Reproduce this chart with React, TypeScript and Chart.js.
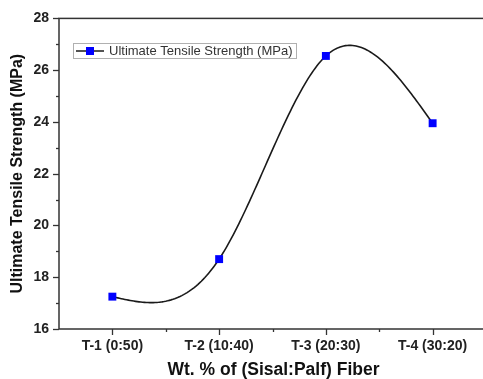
import React, { useEffect, useRef } from "react";
import { Chart, registerables } from "chart.js";

Chart.register(...registerables);

const categories = ["T-1 (0:50)", "T-2 (10:40)", "T-3 (20:30)", "T-4 (30:20)"];
const strengthValues = [17.25, 18.7, 26.55, 23.95];
const seriesLabel = "Ultimate Tensile Strength (MPa)";
const xTitle = "Wt. % of (Sisal:Palf) Fiber";
const yTitle = "Ultimate Tensile Strength (MPa)";
const yMin = 16;
const yMax = 28;
const yStep = 2;

const FONT = "'Liberation Sans', Arial, sans-serif";

// natural cubic spline second derivatives
function naturalSpline(xs: number[], ys: number[]) {
  const n = xs.length;
  const M = new Array(n).fill(0);
  if (n < 3) return M;
  const a: number[] = [], b: number[] = [], c: number[] = [], d: number[] = [];
  for (let i = 1; i < n - 1; i++) {
    const h0 = xs[i] - xs[i - 1];
    const h1 = xs[i + 1] - xs[i];
    a.push(h0);
    b.push(2 * (h0 + h1));
    c.push(h1);
    d.push(6 * ((ys[i + 1] - ys[i]) / h1 - (ys[i] - ys[i - 1]) / h0));
  }
  const m = b.length;
  for (let i = 1; i < m; i++) {
    const w = a[i] / b[i - 1];
    b[i] -= w * c[i - 1];
    d[i] -= w * d[i - 1];
  }
  const sol = new Array(m).fill(0);
  sol[m - 1] = d[m - 1] / b[m - 1];
  for (let i = m - 2; i >= 0; i--) sol[i] = (d[i] - c[i] * sol[i + 1]) / b[i];
  for (let i = 0; i < m; i++) M[i + 1] = sol[i];
  return M;
}

const decorPlugin = {
  id: "decor",
  beforeDatasetsDraw(chart: any) {
    const ctx = chart.ctx;
    const meta = chart.getDatasetMeta(0);
    const xs = meta.data.map((p: any) => p.x);
    const ys = meta.data.map((p: any) => p.y);
    const M = naturalSpline(xs, ys);
    ctx.save();
    ctx.beginPath();
    ctx.strokeStyle = "#1a1a1a";
    ctx.lineWidth = 1.6;
    ctx.lineJoin = "round";
    for (let i = 0; i < xs.length - 1; i++) {
      const h = xs[i + 1] - xs[i];
      const steps = 60;
      for (let s = 0; s <= steps; s++) {
        const x = xs[i] + (h * s) / steps;
        const A = (xs[i + 1] - x) / h;
        const B = (x - xs[i]) / h;
        const y =
          A * ys[i] +
          B * ys[i + 1] +
          ((A * A * A - A) * M[i] + (B * B * B - B) * M[i + 1]) * (h * h) / 6;
        if (i === 0 && s === 0) ctx.moveTo(x, y);
        else ctx.lineTo(x, y);
      }
    }
    ctx.stroke();
    ctx.restore();
  },
  afterDraw(chart: any) {
    const ctx = chart.ctx;
    const area = chart.chartArea;
    const xs = chart.scales.x;
    const ysc = chart.scales.y;
    ctx.save();
    // frame
    ctx.strokeStyle = "#333";
    ctx.lineWidth = 1.5;
    ctx.strokeRect(area.left, area.top, area.right - area.left, area.bottom - area.top);
    // y ticks
    ctx.lineWidth = 1.3;
    for (let v = yMin; v <= yMax; v += yStep / 2) {
      const y = Math.round(ysc.getPixelForValue(v)) + 0.5;
      const major = (v - yMin) % yStep === 0;
      ctx.beginPath();
      ctx.moveTo(area.left - (major ? 6 : 3), y);
      ctx.lineTo(area.left, y);
      ctx.stroke();
    }
    // x ticks
    const n = categories.length;
    for (let i = 0; i < n; i++) {
      const x = Math.round(xs.getPixelForValue(i)) + 0.5;
      ctx.beginPath();
      ctx.moveTo(x, area.bottom);
      ctx.lineTo(x, area.bottom + 6);
      ctx.stroke();
      if (i < n - 1) {
        const xm = Math.round((xs.getPixelForValue(i) + xs.getPixelForValue(i + 1)) / 2) + 0.5;
        ctx.beginPath();
        ctx.moveTo(xm, area.bottom);
        ctx.lineTo(xm, area.bottom + 3);
        ctx.stroke();
      }
    }
    // axis titles
    ctx.fillStyle = "#111";
    ctx.font = `bold 17.5px ${FONT}`;
    ctx.textAlign = "center";
    ctx.textBaseline = "middle";
    ctx.fillText(xTitle, 273.5, 370);
    ctx.font = `bold 16px ${FONT}`;
    ctx.save();
    ctx.translate(18, (area.top + area.bottom) / 2);
    ctx.rotate(-Math.PI / 2);
    ctx.fillText(yTitle, 0, 0);
    ctx.restore();
    // legend
    const lx = 73, ly = 43, lw = 223, lh = 15;
    ctx.fillStyle = "#fff";
    ctx.fillRect(lx, ly, lw, lh);
    ctx.strokeStyle = "#b0b0b0";
    ctx.lineWidth = 1;
    ctx.strokeRect(lx + 0.5, ly + 0.5, lw, lh);
    const cy = ly + lh / 2 + 0.5;
    ctx.strokeStyle = "#1a1a1a";
    ctx.lineWidth = 1.5;
    ctx.beginPath();
    ctx.moveTo(76, cy);
    ctx.lineTo(104, cy);
    ctx.stroke();
    ctx.fillStyle = "#0000ff";
    ctx.fillRect(86, cy - 4, 8, 8);
    ctx.fillStyle = "#333";
    ctx.font = `13px ${FONT}`;
    ctx.textAlign = "left";
    ctx.fillText(chart.data.datasets[0].label, 109, cy + 0.5);
    ctx.restore();
  },
};

export default function App() {
  const ref = useRef<HTMLCanvasElement | null>(null);
  useEffect(() => {
    document.body.style.margin = "0";
    document.body.style.overflow = "hidden";
    const chart = new Chart(ref.current as HTMLCanvasElement, {
      type: "line",
      data: {
        labels: categories,
        datasets: [
          {
            label: seriesLabel,
            data: strengthValues,
            showLine: false,
            pointStyle: "rect",
            pointRadius: 5.6,
            pointBackgroundColor: "#0000ff",
            pointBorderColor: "#0000ff",
            pointBorderWidth: 0,
            clip: false as any,
          },
        ],
      },
      options: {
        animation: false,
        responsive: false,
        maintainAspectRatio: false,
        layout: { autoPadding: false, padding: { top: 16, left: 0, right: 0, bottom: 0 } },
        plugins: { legend: { display: false }, tooltip: { enabled: false } },
        scales: {
          x: {
            type: "category",
            offset: true,
            grid: { display: false, drawTicks: false },
            border: { display: false },
            ticks: {
              color: "#222",
              font: { family: FONT, size: 14, weight: "bold" },
              padding: 9,
              maxRotation: 0,
              autoSkip: false,
            },
            afterFit: (s: any) => {
              s.height = 50;
            },
          },
          y: {
            min: yMin,
            max: yMax,
            grid: { display: false, drawTicks: false },
            border: { display: false },
            ticks: {
              stepSize: yStep,
              color: "#222",
              font: { family: FONT, size: 14, weight: "bold" },
              padding: 10,
            },
            afterFit: (s: any) => {
              s.width = 59;
            },
          },
        },
      },
      plugins: [decorPlugin],
    });
    return () => chart.destroy();
  }, []);
  return (
    <div style={{ position: "fixed", left: 0, top: 0, width: 483, height: 379, overflow: "hidden", background: "#fff" }}>
      <canvas ref={ref} width={486} height={379} style={{ width: 486, height: 379, display: "block" }} />
    </div>
  );
}
